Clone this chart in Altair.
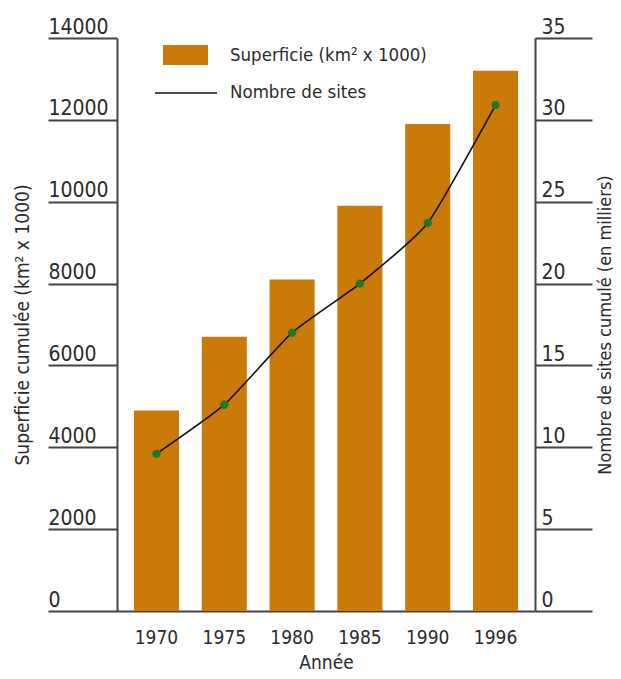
import altair as alt
import pandas as pd

years = ["1970", "1975", "1980", "1985", "1990", "1996"]
superficie = [4900, 6700, 8100, 9900, 11900, 13200]
sites = [9.6, 12.6, 17.0, 20.0, 23.7, 30.9]

legend_labels = ["Superficie (km² x 1000)", "Nombre de sites"]

FONT = "Liberation Sans Narrow, DejaVu Sans Condensed, sans-serif"
ORANGE = "#C97A08"
GREEN = "#23772B"
TEXT = "#2b2b2b"
AX = "#444444"

df = pd.DataFrame({"Année": years, "superficie": superficie, "sites": sites})

x_enc = alt.X(
    "Année:O",
    sort=years,
    scale=alt.Scale(paddingInner=0.336, paddingOuter=0.25),
    axis=alt.Axis(
        title="Année", labelAngle=0, ticks=False, tickSize=0, labelPadding=17,
        labelFont=FONT, labelFontSize=19, labelColor=TEXT,
        titleFont=FONT, titleFontSize=19, titleFontWeight="normal", titleColor=TEXT,
        titleY=57, titleBaseline="alphabetic",
        domainColor=AX, domainWidth=2,
    ),
)

bars = alt.Chart(df).mark_bar(color=ORANGE).encode(
    x=x_enc,
    y=alt.Y(
        "superficie:Q",
        scale=alt.Scale(domain=[0, 14000], nice=False),
        axis=alt.Axis(
            title="Superficie cumulée (km² x 1000)", orient="left", format="d",
            values=list(range(0, 14001, 2000)), grid=False,
            tickSize=69, tickWidth=2, tickColor=AX,
            domainColor=AX, domainWidth=2,
            labelAlign="left", labelBaseline="alphabetic", labelPadding=0,
            labelOffset=-5, labelFlush=False, labelOverlap=False,
            labelFont=FONT, labelFontSize=21, labelColor=TEXT,
            titleFont=FONT, titleFontSize=19, titleFontWeight="normal", titleColor=TEXT,
            titleX=-95, titleAngle=270, titleBaseline="middle", titleAlign="center",
        ),
    ),
)

line = alt.Chart(df).mark_line(
    color="#111111", strokeWidth=1.6, interpolate="cardinal", tension=0.5,
    point=alt.OverlayMarkDef(color=GREEN, filled=True, size=70, opacity=1),
).encode(
    x=alt.X("Année:O", sort=years),
    y=alt.Y(
        "sites:Q",
        scale=alt.Scale(domain=[0, 35], nice=False),
        axis=alt.Axis(
            title="Nombre de sites cumulé (en milliers)", orient="right", format="d",
            values=list(range(0, 36, 5)), grid=False,
            tickSize=57, tickWidth=2, tickColor=AX,
            domainColor=AX, domainWidth=2,
            labelAlign="left", labelBaseline="alphabetic", labelPadding=-51,
            labelOffset=-5, labelFlush=False, labelOverlap=False,
            labelFont=FONT, labelFontSize=21, labelColor=TEXT,
            titleFont=FONT, titleFontSize=18, titleFontWeight="normal", titleColor=TEXT,
            titleX=70, titleAngle=270, titleBaseline="middle", titleAlign="center",
        ),
    ),
)

leg_df = pd.DataFrame({"label": legend_labels})

leg_rect = alt.Chart(leg_df).transform_filter(
    alt.datum.label == legend_labels[0]
).mark_rect(color=ORANGE).encode(
    x=alt.value(46), x2=alt.value(91), y=alt.value(7), y2=alt.value(27)
)
leg_line = alt.Chart(leg_df).transform_filter(
    alt.datum.label == legend_labels[1]
).mark_rule(color="#111111", strokeWidth=1.5).encode(
    x=alt.value(38), x2=alt.value(100), y=alt.value(55)
)
leg_text = alt.Chart(leg_df).mark_text(
    align="left", baseline="middle", font=FONT, fontSize=18.5, color=TEXT
).encode(
    text="label:N",
    x=alt.value(113),
    y=alt.Y("label:N", sort=legend_labels,
            scale=alt.Scale(type="point", padding=0, range=[17, 54]), axis=None),
)

chart = alt.layer(bars, line, leg_rect, leg_line, leg_text).resolve_scale(
    y="independent"
).properties(
    width=418, height=573,
    autosize=alt.AutoSizeParams(type="none"),
    padding={"left": 109, "top": 30, "right": 78, "bottom": 60},
).configure_view(stroke=None)

chart.save("out.html", embed_options={"renderer": "svg", "actions": False})
